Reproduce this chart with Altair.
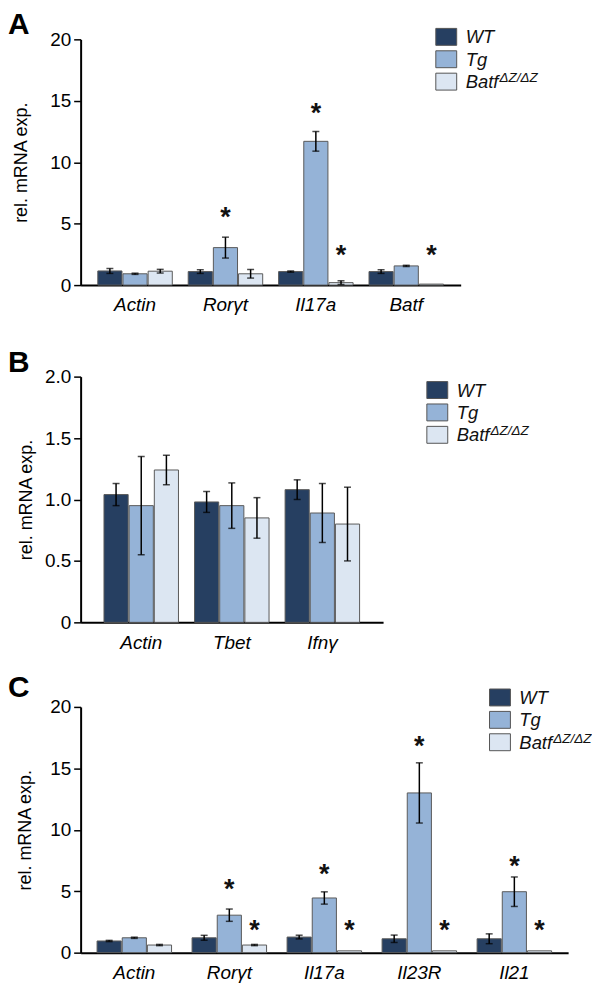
import altair as alt
import pandas as pd

FONT = "Liberation Sans"
group_keys = ["WT", "Tg", "KO"]
group_colors = ["#263f61", "#95b3d7", "#dce6f2"]

# ---------------- Panel A ----------------
a_genes = ["Actin", "Rorγt", "Il17a", "Batf"]
a_wt = [1.15, 1.1, 1.1, 1.1]
a_wt_err = [0.2, 0.15, 0.05, 0.15]
a_tg = [0.92, 3.05, 11.7, 1.56]
a_tg_err = [0.05, 0.85, 0.8, 0.05]
a_ko = [1.13, 0.92, 0.2, 0.08]
a_ko_err = [0.15, 0.35, 0.15, 0.0]
a_star_gene = ["Rorγt", "Il17a", "Il17a", "Batf"]
a_star_group = ["Tg", "Tg", "KO", "KO"]
a_star_y = [6.0, 14.5, 2.9, 2.9]

# ---------------- Panel B ----------------
b_genes = ["Actin", "Tbet", "Ifnγ"]
b_wt = [1.04, 0.98, 1.08]
b_wt_err = [0.09, 0.085, 0.08]
b_tg = [0.95, 0.95, 0.89]
b_tg_err = [0.4, 0.185, 0.24]
b_ko = [1.24, 0.85, 0.80]
b_ko_err = [0.12, 0.165, 0.3]

# ---------------- Panel C ----------------
c_genes = ["Actin", "Rorγt", "Il17a", "Il23R", "Il21"]
c_wt = [0.95, 1.21, 1.27, 1.13, 1.13]
c_wt_err = [0.05, 0.2, 0.15, 0.3, 0.4]
c_tg = [1.21, 3.05, 4.45, 13.0, 4.96]
c_tg_err = [0.05, 0.5, 0.5, 2.45, 1.2]
c_ko = [0.62, 0.62, 0.15, 0.15, 0.15]
c_ko_err = [0.05, 0.05, 0.0, 0.0, 0.0]
c_star_gene = ["Rorγt", "Rorγt", "Il17a", "Il17a", "Il23R", "Il23R", "Il21", "Il21"]
c_star_group = ["Tg", "KO", "Tg", "KO", "Tg", "KO", "Tg", "KO"]
c_star_y = [5.7, 2.3, 6.9, 2.3, 17.3, 2.3, 7.5, 2.3]

one = pd.DataFrame({"k": [0]})


def long_df(genes, wt, wte, tg, tge, ko, koe):
    rows = []
    for i, g in enumerate(genes):
        for key, v, e in (("WT", wt[i], wte[i]), ("Tg", tg[i], tge[i]), ("KO", ko[i], koe[i])):
            rows.append({"gene": g, "group": key, "value": v, "lo": v - e, "hi": v + e, "err": e})
    return pd.DataFrame(rows)


def legend_layers(x0, y0):
    layers = []
    labels = ["WT", "Tg", "Batf"]
    for i, (lab, col) in enumerate(zip(labels, group_colors)):
        top = y0 + i * 22.5
        layers.append(
            alt.Chart(one).mark_rect(stroke="#555555", strokeWidth=1, fill=col).encode(
                x=alt.value(x0), x2=alt.value(x0 + 21), y=alt.value(top), y2=alt.value(top + 17)
            )
        )
        layers.append(
            alt.Chart(one).mark_text(
                text=lab, font=FONT, fontSize=18.5, fontStyle="italic", align="left",
                baseline="middle", color="#111111"
            ).encode(x=alt.value(x0 + 30), y=alt.value(top + 9))
        )
    top = y0 + 2 * 22.5
    layers.append(
        alt.Chart(one).mark_text(
            text="ΔZ/ΔZ", font=FONT, fontSize=13.5, fontStyle="italic", align="left",
            baseline="middle", color="#111111"
        ).encode(x=alt.value(x0 + 30 + 34), y=alt.value(top + 5))
    )
    return layers


def panel(letter, letter_y, genes, df, width, pin, pout, ymax, yvals, title_pad,
          leg_x, leg_y, stars=None, label_expr=None):
    xenc = alt.X(
        "gene:N", sort=genes, title=None,
        scale=alt.Scale(paddingInner=pin, paddingOuter=pout),
        axis=alt.Axis(labelFontStyle="italic", labelFontSize=19, labelAngle=0, ticks=False,
                      domainWidth=2, labelPadding=11),
    )
    xoff = alt.XOffset("group:N", sort=group_keys, scale=alt.Scale(paddingInner=0.04))
    axis_kw = dict(values=yvals, title="rel. mRNA exp.", titleFontSize=18, titleFontWeight="normal",
                   titlePadding=title_pad, grid=False, domainWidth=2, tickWidth=1.5, tickSize=7,
                   labelFontSize=19, labelPadding=3)
    if label_expr:
        axis_kw["labelExpr"] = label_expr
    yenc = alt.Y("value:Q", scale=alt.Scale(domain=[0, ymax], nice=False), axis=alt.Axis(**axis_kw))
    base = alt.Chart(df)
    bars = base.mark_bar(stroke="#5a5a5a", strokeWidth=1).encode(
        x=xenc, xOffset=xoff, y=yenc,
        color=alt.Color("group:N", scale=alt.Scale(domain=group_keys, range=group_colors), legend=None),
    )
    errdf = base.transform_filter("datum.err > 0")
    rules = errdf.mark_rule(color="black", strokeWidth=1.5).encode(
        x=alt.X("gene:N", sort=genes), xOffset=alt.XOffset("group:N", sort=group_keys),
        y="lo:Q", y2="hi:Q",
    )
    cap_lo = errdf.mark_tick(color="black", orient="horizontal", size=7, thickness=1.5).encode(
        x=alt.X("gene:N", sort=genes), xOffset=alt.XOffset("group:N", sort=group_keys), y="lo:Q"
    )
    cap_hi = errdf.mark_tick(color="black", orient="horizontal", size=7, thickness=1.5).encode(
        x=alt.X("gene:N", sort=genes), xOffset=alt.XOffset("group:N", sort=group_keys), y="hi:Q"
    )
    layers = [bars, rules, cap_lo, cap_hi]
    if stars is not None:
        layers.append(
            alt.Chart(stars).mark_text(text="*", font=FONT, fontSize=27, fontWeight="bold",
                                       baseline="alphabetic", dy=15, color="#111111").encode(
                x=alt.X("gene:N", sort=genes), xOffset=alt.XOffset("group:N", sort=group_keys),
                y="y:Q",
            )
        )
    layers.append(
        alt.Chart(one).mark_text(text=letter, font=FONT, fontSize=30, fontWeight="bold",
                                 align="left", baseline="alphabetic", color="black").encode(
            x=alt.value(-73), y=alt.value(letter_y)
        )
    )
    layers += legend_layers(leg_x, leg_y)
    return alt.layer(*layers).properties(width=width, height=247)


dfa = long_df(a_genes, a_wt, a_wt_err, a_tg, a_tg_err, a_ko, a_ko_err)
dfb = long_df(b_genes, b_wt, b_wt_err, b_tg, b_tg_err, b_ko, b_ko_err)
dfc = long_df(c_genes, c_wt, c_wt_err, c_tg, c_tg_err, c_ko, c_ko_err)
stars_a = pd.DataFrame({"gene": a_star_gene, "group": a_star_group, "y": a_star_y})
stars_c = pd.DataFrame({"gene": c_star_gene, "group": c_star_group, "y": c_star_y})

pa = panel("A", -5, a_genes, dfa, 382, 0.176, 0.19, 20, [0, 5, 10, 15, 20], 19, 357, -11, stars_a)
pb = panel("B", -5, b_genes, dfb, 304, 0.176, 0.258, 2.0, [0, 0.5, 1.0, 1.5, 2.0], 9, 348, 5,
           label_expr="datum.value == 0 ? '0' : format(datum.value, '.1f')")
pc = panel("C", -10, c_genes, dfc, 490, 0.215, 0.173, 20, [0, 5, 10, 15, 20], 15, 411, -18, stars_c)

chart = alt.vconcat(pa, alt.vconcat(pb, pc, spacing=21), spacing=33).properties(padding=0).configure(
    font=FONT
).configure_view(stroke=None).configure_axis(
    labelFont=FONT, titleFont=FONT, labelColor="black", titleColor="black",
    domainColor="black", tickColor="black"
)

chart.save("out.html", embed_options={"renderer": "svg", "actions": False})
